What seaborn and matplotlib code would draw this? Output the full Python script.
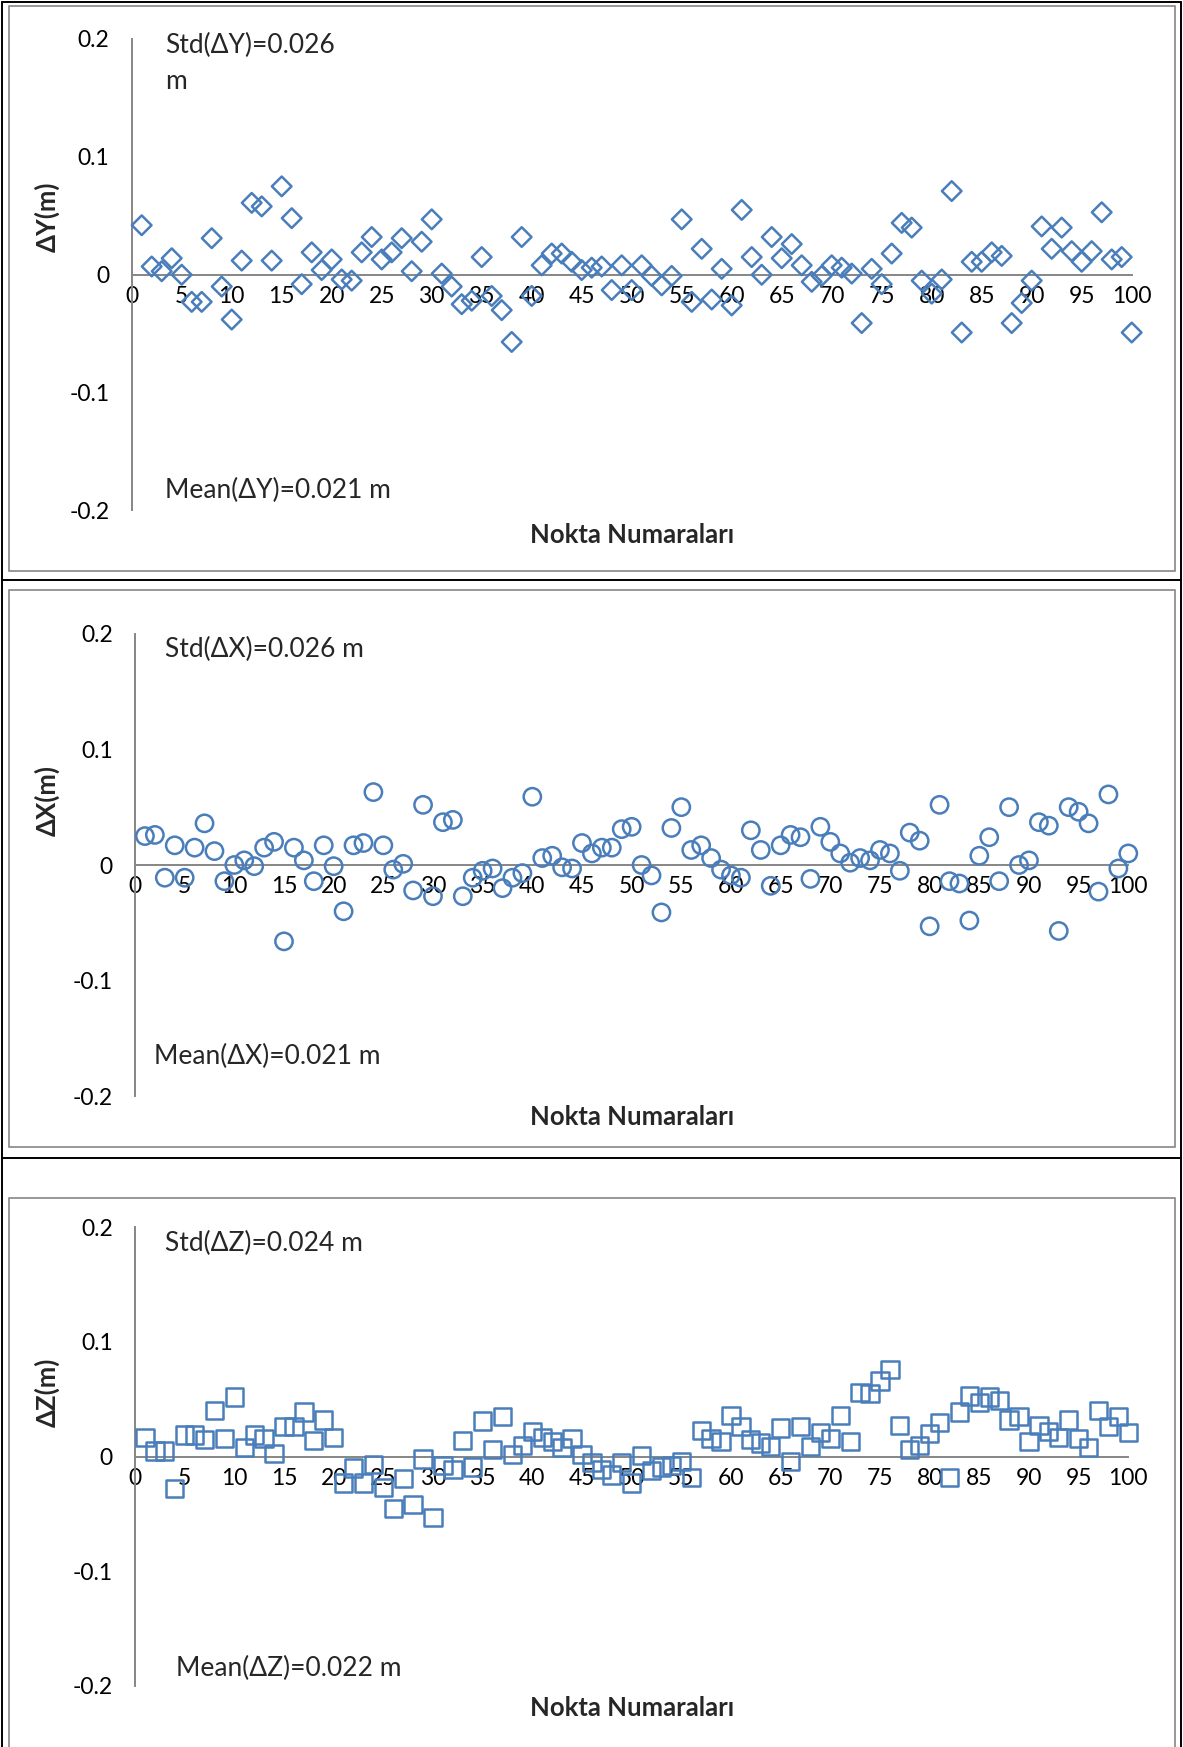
import numpy as np
import pandas as pd
import seaborn as sns
import matplotlib.pyplot as plt
from matplotlib.patches import Rectangle
from matplotlib.lines import Line2D

# Point-wise differences (m) for the 100 check points
nokta = list(range(1, 101))

delta_y = [0.042, 0.007, 0.003, 0.014, 0.000, -0.023, -0.023, 0.031, -0.010, -0.038,
           0.012, 0.061, 0.058, 0.012, 0.075, 0.048, -0.008, 0.019, 0.004, 0.013,
           -0.004, -0.005, 0.019, 0.032, 0.013, 0.019, 0.031, 0.003, 0.028, 0.047,
           0.001, -0.010, -0.025, -0.022, 0.015, -0.018, -0.030, -0.057, 0.032, -0.018,
           0.008, 0.018, 0.018, 0.011, 0.004, 0.006, 0.007, -0.013, 0.008, -0.013,
           0.008, -0.001, -0.009, -0.001, 0.047, -0.023, 0.022, -0.021, 0.005, -0.026,
           0.055, 0.015, 0.000, 0.032, 0.014, 0.026, 0.008, -0.006, -0.001, 0.008,
           0.006, 0.001, -0.041, 0.005, -0.008, 0.018, 0.044, 0.040, -0.005, -0.016,
           -0.004, 0.071, -0.049, 0.011, 0.011, 0.019, 0.016, -0.041, -0.024, -0.005,
           0.041, 0.022, 0.040, 0.020, 0.011, 0.020, 0.053, 0.013, 0.015, -0.049]

delta_x = [0.025, 0.026, -0.011, 0.017, -0.011, 0.015, 0.036, 0.012, -0.014, 0.000,
           0.004, -0.001, 0.015, 0.020, -0.066, 0.015, 0.004, -0.014, 0.017, -0.001,
           -0.040, 0.017, 0.019, 0.063, 0.017, -0.004, 0.001, -0.022, 0.052, -0.027,
           0.037, 0.039, -0.027, -0.011, -0.005, -0.003, -0.020, -0.011, -0.007, 0.059,
           0.006, 0.008, -0.002, -0.003, 0.019, 0.010, 0.015, 0.015, 0.031, 0.033,
           0.000, -0.009, -0.041, 0.032, 0.050, 0.013, 0.017, 0.006, -0.004, -0.009,
           -0.011, 0.030, 0.013, -0.018, 0.017, 0.026, 0.024, -0.012, 0.033, 0.020,
           0.010, 0.002, 0.006, 0.004, 0.013, 0.010, -0.005, 0.028, 0.021, -0.053,
           0.052, -0.014, -0.016, -0.048, 0.008, 0.024, -0.014, 0.050, 0.000, 0.004,
           0.037, 0.034, -0.057, 0.050, 0.046, 0.036, -0.023, 0.061, -0.003, 0.010]

delta_z = [0.017, 0.005, 0.005, -0.028, 0.019, 0.019, 0.015, 0.040, 0.016, 0.052,
           0.008, 0.019, 0.016, 0.003, 0.026, 0.026, 0.039, 0.014, 0.032, 0.017,
           -0.023, -0.010, -0.023, -0.007, -0.027, -0.045, -0.019, -0.042, -0.002, -0.053,
           -0.008, -0.011, 0.014, -0.009, 0.031, 0.006, 0.035, 0.002, 0.010, 0.022,
           0.017, 0.013, 0.008, 0.016, 0.002, -0.005, -0.011, -0.016, -0.005, -0.023,
           0.001, -0.012, -0.009, -0.008, -0.004, -0.018, 0.023, 0.016, 0.013, 0.036,
           0.026, 0.015, 0.012, 0.009, 0.025, -0.004, 0.026, 0.009, 0.021, 0.016,
           0.036, 0.013, 0.056, 0.055, 0.066, 0.076, 0.027, 0.006, 0.010, 0.020,
           0.030, -0.018, 0.039, 0.053, 0.047, 0.052, 0.049, 0.032, 0.035, 0.013,
           0.027, 0.022, 0.017, 0.032, 0.016, 0.008, 0.040, 0.026, 0.035, 0.021]

x_ticks = list(range(0, 101, 5))
y_ticks = [-0.2, -0.1, 0.0, 0.1, 0.2]
y_tick_labels = ["-0.2", "-0.1", "0", "0.1", "0.2"]

y_labels = ["ΔY(m)", "ΔX(m)", "ΔZ(m)"]
std_texts = ["Std(ΔY)=0.026\nm", "Std(ΔX)=0.026 m", "Std(ΔZ)=0.024 m"]
mean_texts = ["Mean(ΔY)=0.021 m", "Mean(ΔX)=0.021 m", "Mean(ΔZ)=0.022 m"]
x_title = "Nokta Numaraları"

sns.set_style("white")
FONT = ["Lato", "DejaVu Sans"]
plt.rcParams["font.family"] = FONT

W, H = 1183, 1747
fig = plt.figure(figsize=(W / 100, H / 100), dpi=100)

BLUE = "#4A7EBB"
GRAY = "#868686"


def fx(px):
    return px / W


def fy(py):
    return 1 - py / H


# panel geometry in pixels: x of 0 and 100, y of +0.2 and -0.2
panels = [
    dict(x0=131.7, x1=1131.7, ytop=39.0, ybot=510.5, marker="D", s=100, data=delta_y,
         std=(165, 63), mean=(165, 490), ylab=(47, 217), xlab=(632, 535)),
    dict(x0=135.0, x1=1128.3, ytop=633.6, ybot=1096.4, marker="o", s=155, data=delta_x,
         std=(165, 649), mean=(154, 1056), ylab=(47, 800), xlab=(632, 1117)),
    dict(x0=135.0, x1=1128.3, ytop=1227.3, ybot=1686.0, marker="s", s=155, data=delta_z,
         std=(165, 1243), mean=(176, 1668), ylab=(47, 1392), xlab=(632, 1708)),
]

for i, p in enumerate(panels):
    ax = fig.add_axes([fx(p["x0"]), fy(p["ybot"]), fx(p["x1"] - p["x0"]),
                       (p["ybot"] - p["ytop"]) / H])
    df = pd.DataFrame({"nokta": nokta, "delta": p["data"]})
    sns.scatterplot(data=df, x="nokta", y="delta", marker=p["marker"], s=p["s"],
                    color=BLUE, ax=ax, legend=False, zorder=3)
    coll = ax.collections[-1]
    coll.set_facecolor("none")
    coll.set_edgecolor(BLUE)
    coll.set_linewidth(1.8)
    coll.set_clip_on(False)

    ax.set_xlim(0, 100)
    ax.set_ylim(-0.2, 0.2)
    ax.set_xticks(x_ticks)
    ax.set_xticklabels([str(t) for t in x_ticks])
    ax.set_yticks(y_ticks)
    ax.set_yticklabels(y_tick_labels)
    ax.set_xlabel("")
    ax.set_ylabel("")
    for side in ("top", "right"):
        ax.spines[side].set_visible(False)
    ax.spines["bottom"].set_position(("data", 0))
    for side in ("left", "bottom"):
        ax.spines[side].set_color(GRAY)
        ax.spines[side].set_linewidth(1.4)
    ax.tick_params(axis="both", direction="out", length=5, width=1.4, color=GRAY,
                   labelsize=16.5, labelcolor="black", pad=3)
    ax.tick_params(axis="y", pad=11)
    ax.set_facecolor("none")

    fig.text(fx(p["std"][0]), fy(p["std"][1]), std_texts[i], fontsize=19,
             ha="left", va="center", linespacing=1.55)
    fig.text(fx(p["mean"][0]), fy(p["mean"][1]), mean_texts[i], fontsize=19,
             ha="left", va="center")
    fig.text(fx(p["ylab"][0]), fy(p["ylab"][1]), y_labels[i], fontsize=18.5,
             fontweight="bold", rotation=90, ha="center", va="center")
    fig.text(fx(p["xlab"][0]), fy(p["xlab"][1]), x_title, fontsize=18.5,
             fontweight="bold", ha="center", va="center")

# chart frames (gray) and surrounding cell borders (black)
frames = [(9, 6, 1175, 571), (9, 590, 1175, 1147), (9, 1198, 1175, 1760)]
for (l, t, r, b) in frames:
    fig.add_artist(Rectangle((fx(l), fy(b)), fx(r - l), (b - t) / H, fill=False,
                             edgecolor=GRAY, linewidth=1.2, transform=fig.transFigure))

for (xa, ya, xb, yb) in [(2, 2, 1181, 2), (2, 2, 2, 1747), (1181, 2, 1181, 1747),
                         (2, 580, 1181, 580), (2, 1158, 1181, 1158)]:
    fig.add_artist(Line2D([fx(xa), fx(xb)], [fy(ya), fy(yb)], color="black",
                          linewidth=1.4, transform=fig.transFigure))

fig.savefig("out.png", dpi=100, facecolor="white")
